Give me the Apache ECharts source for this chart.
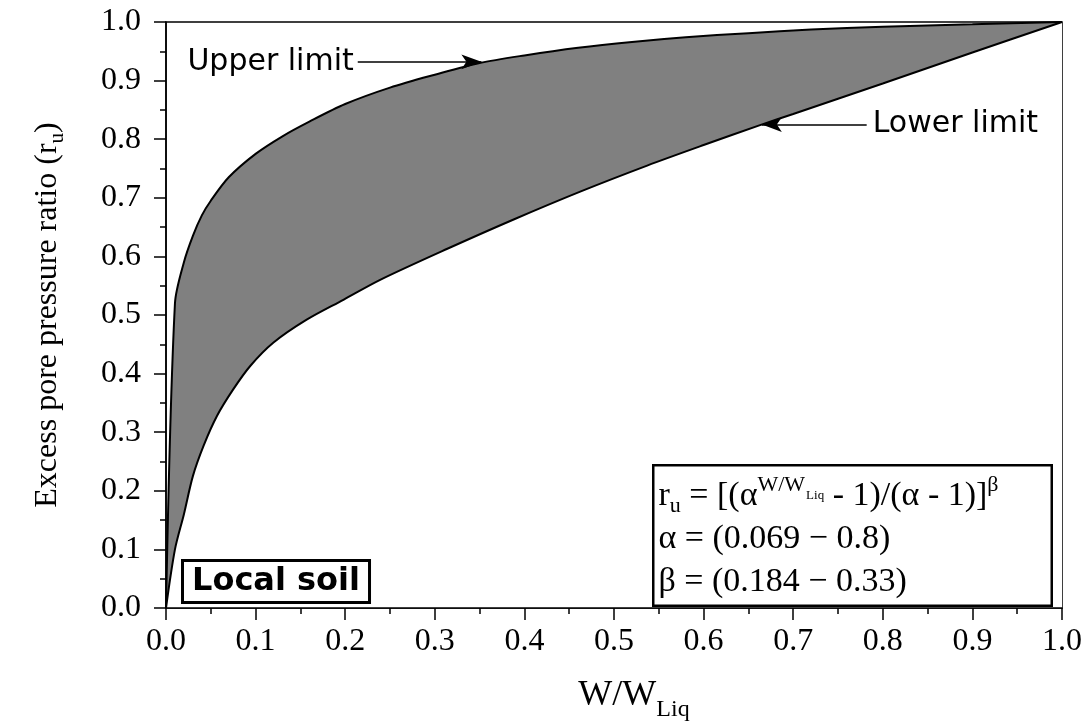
<!DOCTYPE html>
<html>
<head>
<meta charset="utf-8">
<script src="https://cdn.jsdelivr.net/npm/echarts@6/dist/echarts.min.js"></script>
<style>
  html, body { margin: 0; padding: 0; background: #fff; }
  #chart { width: 1088px; height: 727px; }
</style>
</head>
<body>
<div id="chart"></div>
<script>
// Upper limit curve: W/W_Liq and r_u
const upperW  = [0, 0.01, 0.02, 0.03, 0.04, 0.05, 0.07, 0.10, 0.13, 0.16, 0.20, 0.25, 0.30, 0.35, 0.40, 0.46, 0.52, 0.58, 0.65, 0.72, 0.80, 0.90, 1.0];
const upperRu = [0, 0.52, 0.59, 0.635, 0.67, 0.695, 0.735, 0.775, 0.805, 0.83, 0.86, 0.888, 0.91, 0.93, 0.943, 0.956, 0.966, 0.974, 0.981, 0.987, 0.992, 0.996, 1.0];

// Lower limit curve: W/W_Liq and r_u
const lowerW  = [0, 0.01, 0.02, 0.03, 0.042, 0.057, 0.075, 0.094, 0.12, 0.157, 0.198, 0.239, 0.314, 0.388, 0.463, 0.537, 0.60, 0.663, 0.70, 0.80, 0.90, 1.0];
const lowerRu = [0, 0.10, 0.16, 0.225, 0.277, 0.328, 0.373, 0.413, 0.453, 0.492, 0.526, 0.560, 0.613, 0.663, 0.711, 0.755, 0.790, 0.824, 0.843, 0.895, 0.948, 1.0];

// Annotation arrows: [tail, head] in data coordinates
const upperArrow = [[0.214, 0.932], [0.352, 0.932]];
const lowerArrow = [[0.782, 0.825], [0.665, 0.825]];

const upperPts = upperW.map((w, i) => [w, upperRu[i]]);
const lowerPts = lowerW.map((w, i) => [w, lowerRu[i]]);

const serif = '"Liberation Serif", "Times New Roman", serif';
const sans = '"DejaVu Sans", "Liberation Sans", Arial, sans-serif';

const chart = echarts.init(document.getElementById('chart'), null, { renderer: 'canvas' });

const axisCommon = {
  type: 'value',
  min: 0,
  max: 1,
  interval: 0.1,
  z: 10,
  splitLine: { show: false },
  axisLine: { show: true, lineStyle: { color: '#000', width: 1.5 } },
  axisTick: { show: true, inside: false, length: 12, lineStyle: { color: '#000', width: 1.5 } },
  minorTick: { show: true, splitNumber: 2, length: 6, lineStyle: { color: '#000', width: 1.5 } },
  axisLabel: {
    color: '#000',
    fontFamily: serif,
    fontSize: 32,
    formatter: v => v.toFixed(1)
  }
};

const curveSmooth = 0.3;

const option = {
  animation: false,
  backgroundColor: '#fff',
  grid: {
    left: 166, right: 26, top: 22, bottom: 118,
    show: true, borderColor: '#000', borderWidth: 1.5, backgroundColor: 'transparent'
  },
  xAxis: Object.assign({}, axisCommon, {
    axisLabel: Object.assign({}, axisCommon.axisLabel, { margin: 18 }),
    name: '{n|W/W}{s|Liq}',
    nameLocation: 'middle',
    nameGap: 62,
    nameTextStyle: {
      padding: [0, 0, 0, 40],
      rich: {
        n: { fontFamily: serif, fontSize: 36, color: '#000', lineHeight: 52, verticalAlign: 'middle' },
        s: { fontFamily: serif, fontSize: 24, color: '#000', lineHeight: 24, verticalAlign: 'bottom' }
      }
    }
  }),
  yAxis: Object.assign({}, axisCommon, {
    axisLabel: Object.assign({}, axisCommon.axisLabel, { margin: 25 }),
    name: '{n|Excess pore pressure ratio (r}{s|u}{n|)}',
    nameLocation: 'middle',
    nameGap: 98,
    nameRotate: 90,
    nameTextStyle: {
      rich: {
        n: { fontFamily: serif, fontSize: 32, color: '#000', lineHeight: 40, verticalAlign: 'middle' },
        s: { fontFamily: serif, fontSize: 21, color: '#000', lineHeight: 21, verticalAlign: 'bottom' }
      }
    }
  }),
  series: [
    {
      // grey band: filled under the upper limit, then cleared under the lower limit
      name: 'Upper limit',
      type: 'line',
      data: upperPts,
      symbol: 'none',
      smooth: curveSmooth,
      z: 3,
      lineStyle: { color: '#000', width: 2 },
      areaStyle: { color: '#808080', opacity: 1 },
      markLine: {
        silent: true,
        symbol: ['none', 'arrow'],
        symbolSize: [11, 20],
        lineStyle: { color: '#000', width: 1.5, type: 'solid' },
        label: {
          show: true, position: 'start', distance: 4,
          formatter: 'Upper limit', color: '#000', fontFamily: sans, fontSize: 30
        },
        data: [[{ coord: upperArrow[0] }, { coord: upperArrow[1] }]]
      }
    },
    {
      name: 'Lower limit',
      type: 'line',
      data: lowerPts,
      symbol: 'none',
      smooth: curveSmooth,
      z: 4,
      lineStyle: { color: '#000', width: 2 },
      areaStyle: { color: '#fff', opacity: 1 },
      markLine: {
        silent: true,
        symbol: ['none', 'arrow'],
        symbolSize: [11, 20],
        lineStyle: { color: '#000', width: 1.5, type: 'solid' },
        label: {
          show: true, position: 'start', distance: 6,
          formatter: 'Lower limit', color: '#000', fontFamily: sans, fontSize: 30
        },
        data: [[{ coord: lowerArrow[0] }, { coord: lowerArrow[1] }]]
      }
    }
  ],
  graphic: [
    {
      type: 'text',
      left: 181,
      top: 559,
      z: 100,
      style: {
        text: 'Local soil',
        font: 'bold 32px ' + sans,
        fill: '#000',
        backgroundColor: '#fff',
        borderColor: '#000',
        borderWidth: 3,
        padding: [4, 8, 3, 8]
      }
    },
    {
      type: 'text',
      left: 652,
      top: 464,
      z: 100,
      style: {
        text: '{n|r}{sub|u}{n| = [(α}{sup|W/W}{ss|Liq}{n| - 1)/(α - 1)]}{sup|β}\n' +
              '{n|α = (0.069 − 0.8)}\n' +
              '{n|β = (0.184 − 0.33)}',
        rich: {
          n: { fontFamily: serif, fontSize: 34, fill: '#000', lineHeight: 43, verticalAlign: 'middle' },
          sub: { fontFamily: serif, fontSize: 22, fill: '#000', lineHeight: 22, verticalAlign: 'bottom' },
          sup: { fontFamily: serif, fontSize: 22, fill: '#000', lineHeight: 22, verticalAlign: 'top' },
          ss: { fontFamily: serif, fontSize: 13, fill: '#000', verticalAlign: 'top', padding: [15, 0, 0, 1] }
        },
        width: 388,
        backgroundColor: '#fff',
        borderColor: '#000',
        borderWidth: 2.5,
        padding: [8, 4, 1, 4]
      }
    }
  ]
};

chart.setOption(option);
</script>
</body>
</html>
